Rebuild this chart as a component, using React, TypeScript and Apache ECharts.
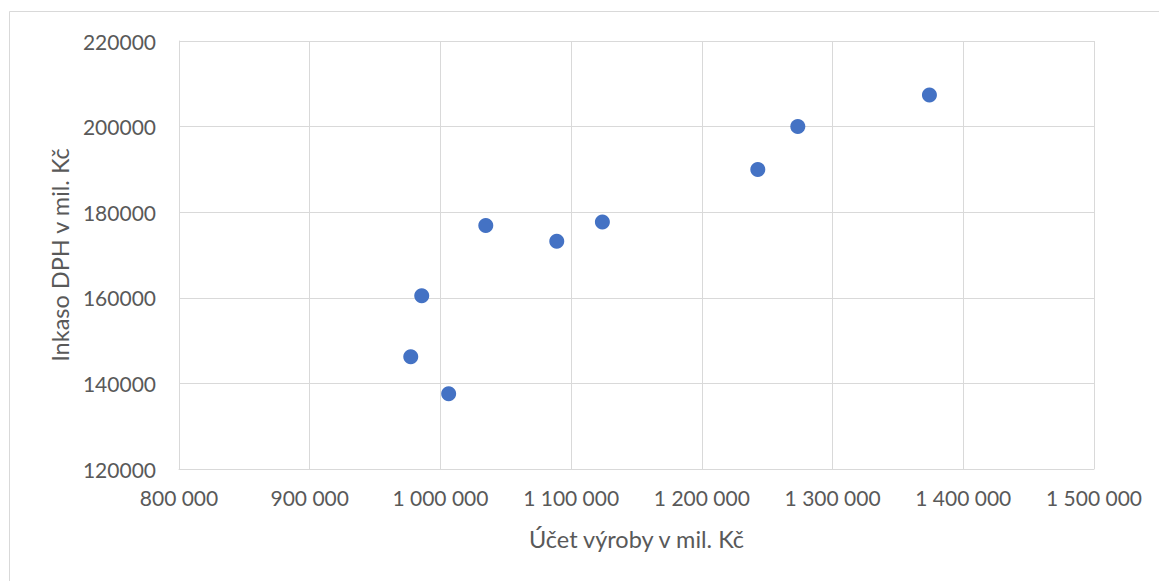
import React, { useEffect, useRef } from "react";
import * as echarts from "echarts";

const xValues = [977300, 985700, 1006300, 1034700, 1089000, 1123900, 1242800, 1273400, 1374100];
const yValues = [146200, 160500, 137600, 176900, 173200, 177700, 190000, 200000, 207400];
const xTitle = "Účet výroby v mil. Kč";
const yTitle = "Inkaso DPH v mil. Kč";

const FONT = "Lato, 'Open Sans', sans-serif";
const TXT = "#595959";
const GRID = "#d9d9d9";

function fmtSpace(v: number): string {
  return String(Math.round(v)).replace(/\B(?=(\d{3})+(?!\d))/g, " ");
}

export default function App() {
  const ref = useRef<HTMLDivElement>(null);
  useEffect(() => {
    if (!ref.current) return;
    const chart = echarts.init(ref.current, undefined, { renderer: "svg" });
    const data = xValues.map((x, i) => [x, yValues[i]]);
    chart.setOption({
      animation: false,
      backgroundColor: "#ffffff",
      textStyle: { fontFamily: FONT },
      graphic: [
        {
          type: "rect",
          shape: { x: 9.5, y: 11.5, width: 1200, height: 700 },
          style: { fill: "none", stroke: GRID, lineWidth: 1 },
          silent: true,
        },
      ],
      grid: { left: 179, top: 41, right: 65, bottom: 112, containLabel: false },
      xAxis: {
        type: "value",
        min: 800000,
        max: 1500000,
        interval: 100000,
        name: xTitle,
        nameLocation: "middle",
        nameGap: 58,
        nameTextStyle: { color: TXT, fontSize: 23.5, fontFamily: FONT },
        axisLine: { show: true, lineStyle: { color: GRID, width: 1 } },
        axisTick: { show: false },
        splitLine: { show: true, lineStyle: { color: GRID, width: 1 } },
        axisLabel: {
          color: TXT,
          fontSize: 21,
          fontFamily: FONT,
          margin: 18,
          formatter: (v: number) => fmtSpace(v),
        },
      },
      yAxis: {
        type: "value",
        min: 120000,
        max: 220000,
        interval: 20000,
        name: yTitle,
        nameLocation: "middle",
        nameGap: 107,
        nameRotate: 90,
        nameTextStyle: { color: TXT, fontSize: 23.5, fontFamily: FONT },
        axisLine: { show: true, lineStyle: { color: GRID, width: 1 } },
        axisTick: { show: false },
        splitLine: { show: true, lineStyle: { color: GRID, width: 1 } },
        axisLabel: {
          color: TXT,
          fontSize: 21,
          fontFamily: FONT,
          margin: 23,
          formatter: (v: number) => String(v),
        },
      },
      series: [
        {
          type: "scatter",
          data,
          symbol: "circle",
          symbolSize: 15,
          itemStyle: { color: "#4472C4", opacity: 1 },
        },
      ],
    });
    return () => chart.dispose();
  }, []);
  return (
    <div
      ref={ref}
      style={{ position: "fixed", left: 0, top: 0, width: 1159, height: 581 }}
    />
  );
}
